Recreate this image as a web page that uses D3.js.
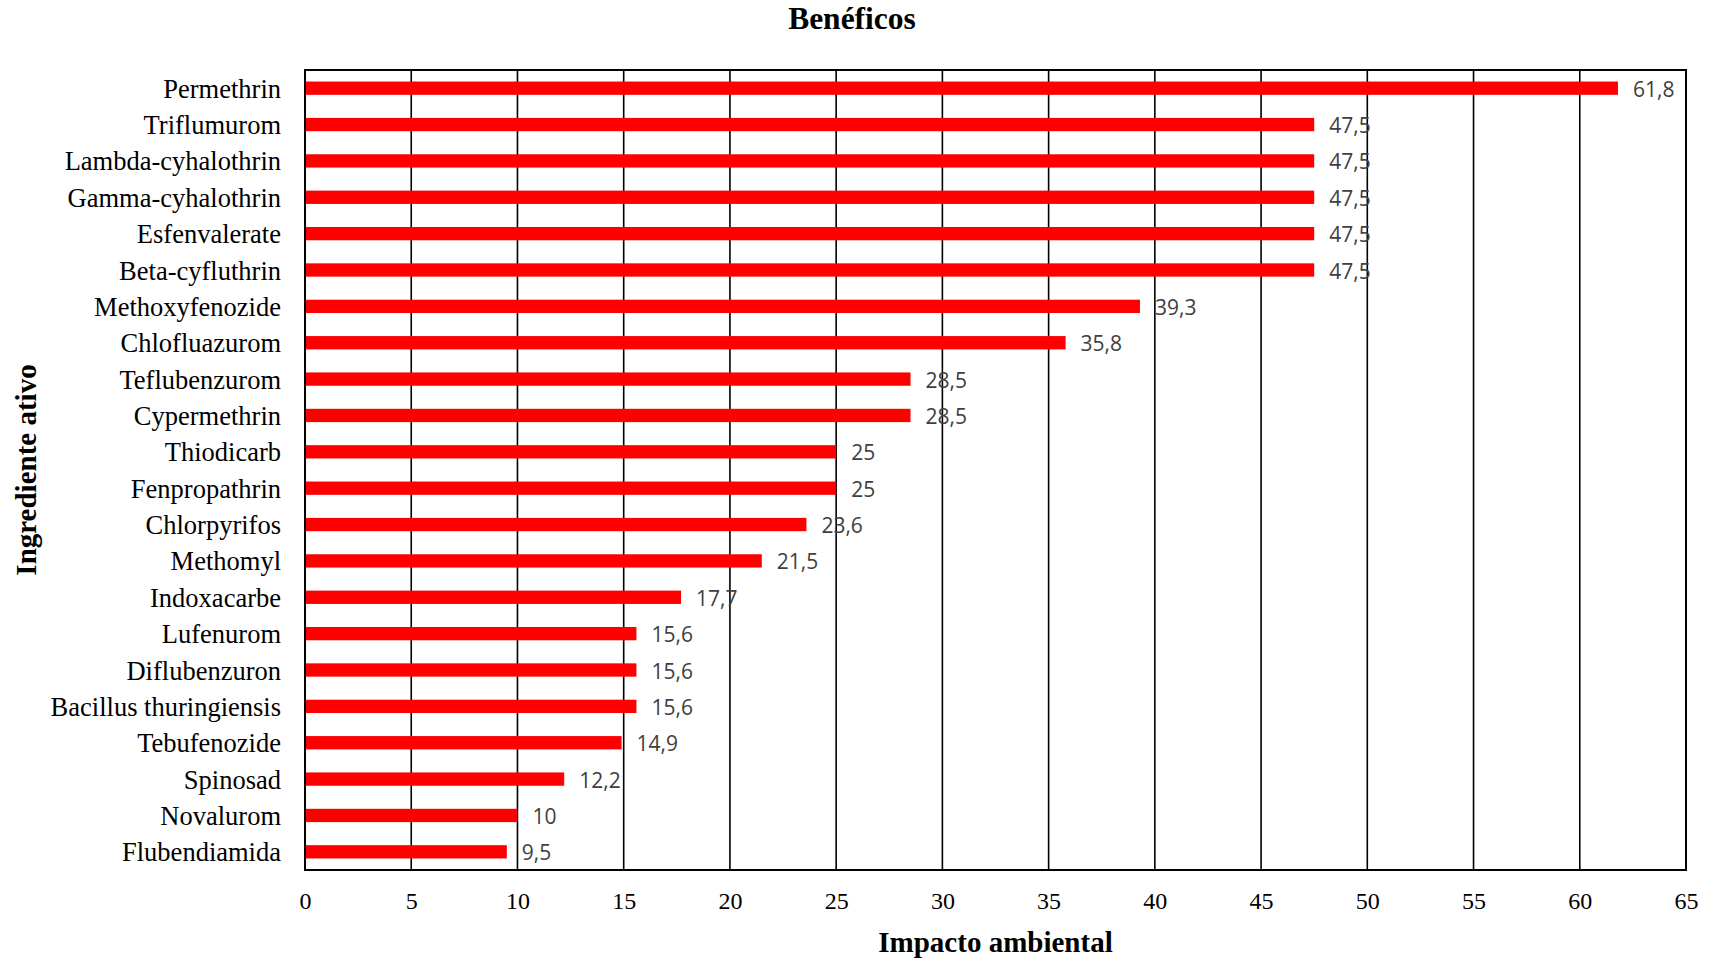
<!DOCTYPE html>
<html>
<head>
<meta charset="utf-8">
<script src="https://cdn.jsdelivr.net/npm/d3@7"></script>
<style>
  html, body { margin: 0; padding: 0; background: #fff; }
  svg { display: block; }
</style>
</head>
<body>
<svg id="chart" width="1713" height="961"></svg>
<script>
// Active ingredients and their environmental impact on beneficial organisms
const ingredients = [
  "Permethrin", "Triflumurom", "Lambda-cyhalothrin", "Gamma-cyhalothrin",
  "Esfenvalerate", "Beta-cyfluthrin", "Methoxyfenozide", "Chlofluazurom",
  "Teflubenzurom", "Cypermethrin", "Thiodicarb", "Fenpropathrin",
  "Chlorpyrifos", "Methomyl", "Indoxacarbe", "Lufenurom", "Diflubenzuron",
  "Bacillus thuringiensis", "Tebufenozide", "Spinosad", "Novalurom", "Flubendiamida"
];
const impact = [
  61.8, 47.5, 47.5, 47.5, 47.5, 47.5, 39.3, 35.8, 28.5, 28.5, 25, 25,
  23.6, 21.5, 17.7, 15.6, 15.6, 15.6, 14.9, 12.2, 10, 9.5
];
const xTicks = [0, 5, 10, 15, 20, 25, 30, 35, 40, 45, 50, 55, 60, 65];

const chartTitle = "Benéficos";
const xTitle = "Impacto ambiental";
const yTitle = "Ingrediente ativo";

const rows = ingredients.map((name, i) => ({ name, value: impact[i] }));

const svg = d3.select("#chart");
const margin = { left: 305, right: 27, top: 70, bottom: 91 };
const W = 1713, H = 961;
const plotW = W - margin.left - margin.right;
const plotH = H - margin.top - margin.bottom;

const x = d3.scaleLinear().domain([0, 65]).range([0, plotW]);
const y = d3.scaleBand().domain(ingredients).range([0, plotH])
  .paddingInner(0.634).paddingOuter(0.317);

const fmt = v => String(v).replace(".", ",");

const g = svg.append("g").attr("transform", `translate(${margin.left},${margin.top})`);

// vertical gridlines
g.append("g")
  .selectAll("line")
  .data(xTicks)
  .join("line")
  .attr("x1", d => x(d)).attr("x2", d => x(d))
  .attr("y1", 0).attr("y2", plotH)
  .attr("stroke", "#000").attr("stroke-width", 1.6);

// bars
g.append("g")
  .selectAll("rect")
  .data(rows)
  .join("rect")
  .attr("x", x(0))
  .attr("y", d => y(d.name))
  .attr("width", d => x(d.value) - x(0))
  .attr("height", y.bandwidth())
  .attr("fill", "#ff0000");

// value labels
g.append("g")
  .selectAll("text")
  .data(rows)
  .join("text")
  .attr("x", d => x(d.value) + 15)
  .attr("y", d => y(d.name) + y.bandwidth() / 2 + 8.5)
  .attr("font-family", "'Open Sans', sans-serif")
  .attr("font-size", 21)
  .attr("fill", "#404040")
  .text(d => fmt(d.value));

// frame
g.append("rect")
  .attr("x", 0).attr("y", 0).attr("width", plotW).attr("height", plotH)
  .attr("fill", "none").attr("stroke", "#000").attr("stroke-width", 2);

// x axis
const xAxis = g.append("g")
  .attr("transform", `translate(0,${plotH})`)
  .call(d3.axisBottom(x).tickValues(xTicks).tickSize(0).tickPadding(0).tickFormat(d => d));
xAxis.select(".domain").remove();
xAxis.selectAll("text")
  .attr("dy", null)
  .attr("y", 39)
  .attr("font-family", "'Liberation Serif', 'Times New Roman', serif")
  .attr("font-size", 24)
  .attr("fill", "#000");

// y axis
const yAxis = g.append("g")
  .call(d3.axisLeft(y).tickSize(0).tickPadding(24));
yAxis.select(".domain").remove();
yAxis.selectAll("text")
  .attr("dy", "0.36em")
  .attr("font-family", "'Liberation Serif', 'Times New Roman', serif")
  .attr("font-size", 26.5)
  .attr("fill", "#000");

// titles
svg.append("text")
  .attr("x", 852).attr("y", 29)
  .attr("text-anchor", "middle")
  .attr("font-family", "'Liberation Serif', 'Times New Roman', serif")
  .attr("font-weight", "bold")
  .attr("font-size", 31.5)
  .text(chartTitle);

svg.append("text")
  .attr("x", margin.left + plotW / 2).attr("y", 952)
  .attr("text-anchor", "middle")
  .attr("font-family", "'Liberation Serif', 'Times New Roman', serif")
  .attr("font-weight", "bold")
  .attr("font-size", 29)
  .text(xTitle);

svg.append("text")
  .attr("transform", `translate(36,${margin.top + plotH / 2}) rotate(-90)`)
  .attr("text-anchor", "middle")
  .attr("font-family", "'Liberation Serif', 'Times New Roman', serif")
  .attr("font-weight", "bold")
  .attr("font-size", 29)
  .text(yTitle);
</script>
</body>
</html>
